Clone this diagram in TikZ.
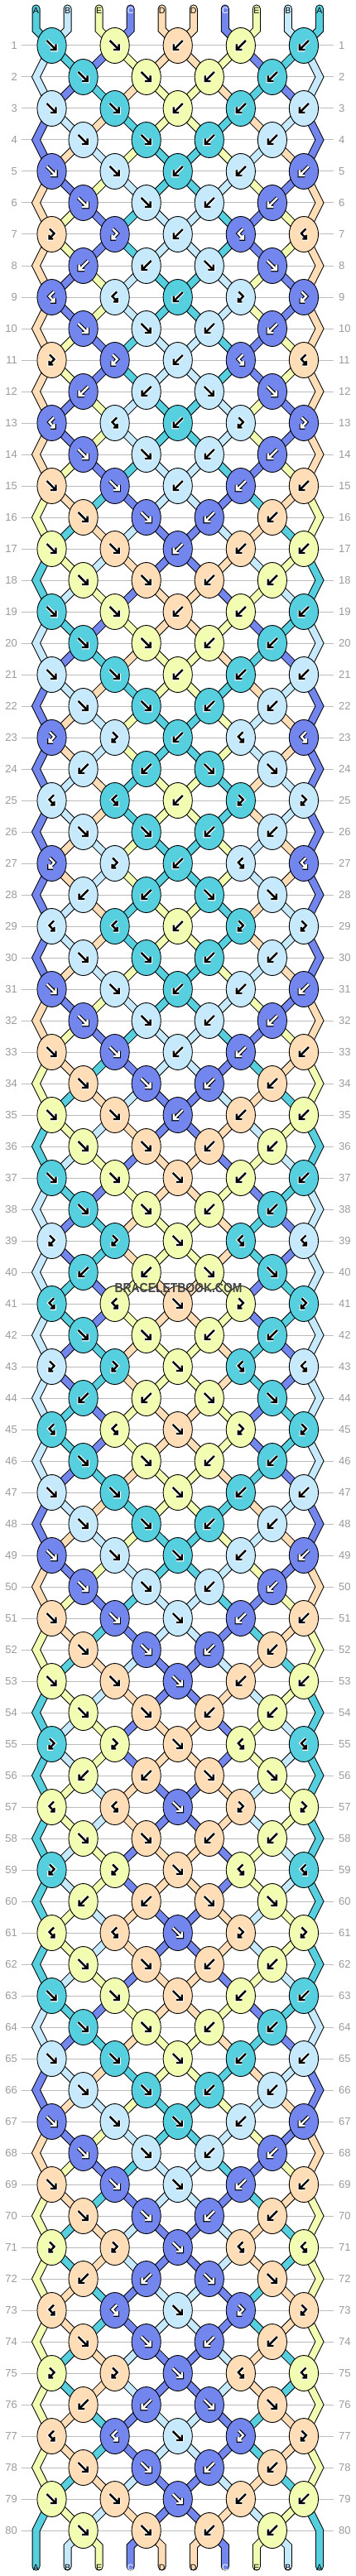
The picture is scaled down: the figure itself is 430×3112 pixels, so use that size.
\documentclass[tikz,border=0pt]{standalone}
\usepackage{fontspec}
\setmainfont{Liberation Sans}
\usetikzlibrary{shapes.geometric}

\definecolor{strA}{HTML}{56CFDF}
\definecolor{strB}{HTML}{C6EAFB}
\definecolor{strC}{HTML}{7386EE}
\definecolor{strD}{HTML}{FFDDB7}
\definecolor{strE}{HTML}{F2FDB1}
\definecolor{rowgray}{HTML}{BDBDBD}
\definecolor{numgray}{HTML}{9B9B9B}
\definecolor{markgray}{HTML}{454545}

\tikzset{
  rowline/.style={rowgray, line width=1pt},
  rownum/.style={numgray, inner sep=0pt, font=\fontsize{13}{13}\selectfont},
  threadrim/.style={black, line width=10pt, line join=miter, line cap=round},
  threadfill/.style={line width=8pt, line join=miter, line cap=round},
  threadtag/.style={inner sep=0pt, font=\fontsize{10.5}{10.5}\selectfont},
  knot/.style={ellipse, draw=black, line width=0.9pt, inner sep=0pt,
    minimum width=35.2pt, minimum height=43pt},
  ink A/.style={black}, ink B/.style={black}, ink C/.style={white},
  ink D/.style={black}, ink E/.style={black},
  halo A/.style={white}, halo B/.style={white}, halo C/.style={black},
  halo D/.style={white}, halo E/.style={white}
}

% arrow glyphs in the knots
\expandafter\def\csname icon-F\endcsname{(-6,6) -- (5,-5) (-1.5,-5) -- (5,-5) -- (5,1.5)}
\expandafter\def\csname icon-B\endcsname{(6,6) -- (-5,-5) (1.5,-5) -- (-5,-5) -- (-5,1.5)}
\expandafter\def\csname icon-FB\endcsname{(-2.5,6.5) -- (3,1) -- (-3,-5.5) (1.5,-5.5) -- (-3,-5.5) -- (-3,-1)}
\expandafter\def\csname icon-BF\endcsname{(2.5,6.5) -- (-3,1) -- (3,-5.5) (-1.5,-5.5) -- (3,-5.5) -- (3,-1)}
% colour from left (0) or right (1) string, and do the strings cross
\expandafter\def\csname dom-F\endcsname{0}
\expandafter\def\csname dom-B\endcsname{1}
\expandafter\def\csname dom-FB\endcsname{0}
\expandafter\def\csname dom-BF\endcsname{1}
\expandafter\def\csname swap-F\endcsname{1}
\expandafter\def\csname swap-B\endcsname{1}
\expandafter\def\csname swap-FB\endcsname{0}
\expandafter\def\csname swap-BF\endcsname{0}

\newcommand\drawknot[5]{%
  \node[knot, fill=str#4] (#1) at (#2,#3) {};
  \edef\glyph{\csname icon-#5\endcsname}
  \begin{scope}[shift={(#1.center)}]
    \draw[halo #4, line width=4.6pt] \glyph;
    \draw[ink #4, line width=2.4pt] \glyph;
  \end{scope}
}
\newcommand\threadlabel[4]{\node[threadtag, ink #4] (#1) at (#2,#3) {#4};}

\begin{document}
\begin{tikzpicture}[x=1pt, y=1pt]
\useasboundingbox (0,0) rectangle (430,-3112);
\fill[white] (0,0) rectangle (430,-3112);

% strings at the top
\foreach \cl [count=\pos] in {A,B,E,C,D,D,C,E,B,A} {
  \pgfmathsetmacro\xx{43.5+38.05*(\pos-1)}
  \expandafter\xdef\csname col\pos\endcsname{\cl}
  \expandafter\xdef\csname at\pos\endcsname{\pos}
  \expandafter\xdef\csname path\pos\endcsname{(\xx,-10.5) -- (\xx,-36)}
}
\gdef\knotlist{}
% tie the rows
\foreach \kinds [count=\row] in {%
{F,F,B,B,B},{F,F,B,B},{F,F,B,B,B},{F,F,B,B},{F,F,B,B,B},{F,F,B,B},%
{FB,FB,B,BF,BF},{B,B,F,F},{BF,BF,B,FB,FB},{F,F,B,B},%
{FB,FB,B,BF,BF},{B,B,F,F},{BF,BF,B,FB,FB},{F,F,B,B},%
{F,F,B,B,B},{F,F,B,B},{F,F,B,B,B},{F,F,B,B},%
{F,F,B,B,B},{F,F,B,B},{F,F,B,B,B},{F,F,B,B},%
{FB,FB,B,BF,BF},{B,B,F,F},{BF,BF,B,FB,FB},{F,F,B,B},%
{FB,FB,B,BF,BF},{B,B,F,F},{BF,BF,B,FB,FB},{F,F,B,B},%
{F,F,B,B,B},{F,F,B,B},{F,F,B,B,B},{F,F,B,B},{F,F,B,B,B},{F,F,B,B},%
{F,F,F,B,B},{F,F,B,B},%
{FB,FB,F,BF,BF},{B,B,F,F},{BF,BF,F,FB,FB},{F,F,B,B},%
{FB,FB,F,BF,BF},{B,B,F,F},{BF,BF,F,FB,FB},{F,F,B,B},%
{F,F,F,B,B},{F,F,B,B},{F,F,F,B,B},{F,F,B,B},%
{F,F,F,B,B},{F,F,B,B},{F,F,F,B,B},{F,F,B,B},%
{FB,FB,F,BF,BF},{B,B,F,F},{BF,BF,F,FB,FB},{F,F,B,B},%
{FB,FB,F,BF,BF},{B,B,F,F},{BF,BF,F,FB,FB},{F,F,B,B},%
{F,F,F,B,B},{F,F,B,B},{F,F,F,B,B},{F,F,B,B},%
{F,F,F,B,B},{F,F,B,B},{F,F,F,B,B},{F,F,B,B},%
{FB,FB,F,BF,BF},{B,B,F,F},{BF,BF,F,FB,FB},{F,F,B,B},%
{FB,FB,F,BF,BF},{B,B,F,F},{BF,BF,F,FB,FB},{F,F,B,B},%
{F,F,F,B,B},{F,F,B,B}} {
  \pgfmathsetmacro\yy{-55-38*(\row-1)}
  \pgfmathtruncatemacro\odd{mod(\row,2)}
  \foreach \kind [count=\kn] in \kinds {
    \pgfmathtruncatemacro\pl{2*\kn-\odd}
    \pgfmathtruncatemacro\pr{\pl+1}
    \pgfmathsetmacro\xk{43.5+38.05*(\pl-0.5)}
    \edef\thl{\csname at\pl\endcsname}
    \edef\thr{\csname at\pr\endcsname}
    \expandafter\xdef\csname path\thl\endcsname{\csname path\thl\endcsname -- (\xk,\yy)}
    \expandafter\xdef\csname path\thr\endcsname{\csname path\thr\endcsname -- (\xk,\yy)}
    \ifnum\csname dom-\kind\endcsname=0\relax
      \edef\kc{\csname col\thl\endcsname}
    \else
      \edef\kc{\csname col\thr\endcsname}
    \fi
    \xdef\knotlist{\unexpanded\expandafter{\knotlist}\noexpand\drawknot{k\row-\kn}{\xk}{\yy}{\kc}{\kind}}
    \ifnum\csname swap-\kind\endcsname=1\relax
      \expandafter\xdef\csname at\pl\endcsname{\thr}
      \expandafter\xdef\csname at\pr\endcsname{\thl}
    \fi
  }
  \ifnum\odd=0\relax
    \edef\thl{\csname at1\endcsname}
    \edef\thr{\csname at10\endcsname}
    \expandafter\xdef\csname path\thl\endcsname{\csname path\thl\endcsname -- (43.5,\yy)}
    \expandafter\xdef\csname path\thr\endcsname{\csname path\thr\endcsname -- (386,\yy)}
  \fi
}
% strings at the bottom
\foreach \pos in {1,...,10} {
  \pgfmathsetmacro\xx{43.5+38.05*(\pos-1)}
  \edef\thd{\csname at\pos\endcsname}
  \expandafter\xdef\csname path\thd\endcsname{\csname path\thd\endcsname -- (\xx,-3076) -- (\xx,-3100.5)}
}

% row lines
\foreach \row in {1,...,80} {
  \pgfmathsetmacro\yy{-55-38*(\row-1)}
  \node[rownum, anchor=east] (nl\row) at (21,\yy) {\row};
  \node[rownum, anchor=west] (nr\row) at (409,\yy) {\row};
  \draw[rowline] ([xshift=5pt]nl\row.east) -- ([xshift=-6pt]nr\row.west);
}

\foreach \thd in {1,...,10} {
  \edef\cmd{\noexpand\draw[threadrim] \csname path\thd\endcsname;}\cmd
}
\foreach \thd in {1,...,10} {
  \edef\cmd{\noexpand\draw[threadfill, str\csname col\thd\endcsname] \csname path\thd\endcsname;}\cmd
}
\foreach \pos in {1,...,10} {
  \pgfmathsetmacro\xx{43.5+38.05*(\pos-1)}
  \edef\cmd{\noexpand\threadlabel{top\pos}{\xx}{-12.5}{\csname col\pos\endcsname}}\cmd
  \edef\cmd{\noexpand\threadlabel{bot\pos}{\xx}{-3101.5}{\csname col\csname at\pos\endcsname\endcsname}}\cmd
}

\knotlist

\node[text=markgray, inner sep=0pt] (mark) at (215.5,-1555.5)
  {\scalebox{0.87}[1]{\fontsize{16}{16}\selectfont\bfseries BRACELETBOOK.COM}};
\end{tikzpicture}
\end{document}
